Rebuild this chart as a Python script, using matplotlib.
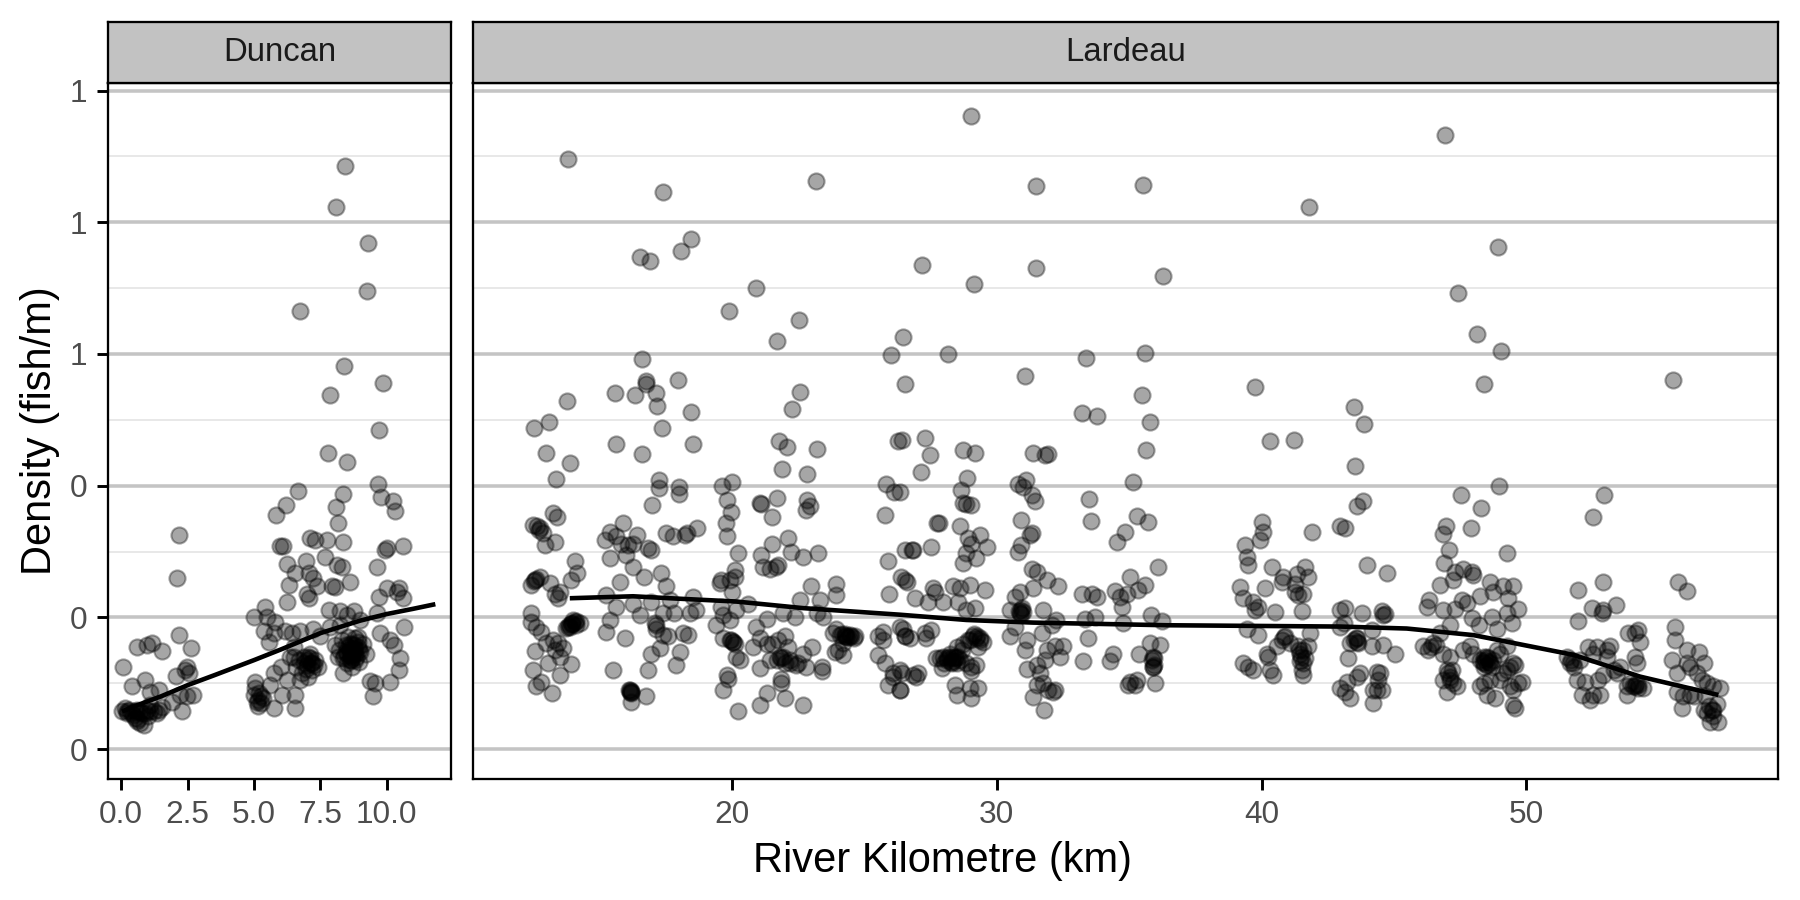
import matplotlib
matplotlib.use("Agg")
import matplotlib.pyplot as plt

plt.rcParams['font.family'] = ['Liberation Sans', 'DejaVu Sans']

# ---------------- data ----------------
panel_names = ["Duncan", "Lardeau"]
x_title = "River Kilometre (km)"
y_title = "Density (fish/m)"

y_tick_values = [0.0, 0.2, 0.4, 0.6, 0.8, 1.0]
y_tick_labels = ["0", "0", "0", "1", "1", "1"]
y_minor_values = [0.1, 0.3, 0.5, 0.7, 0.9]
duncan_x_ticks = [0.0, 2.5, 5.0, 7.5, 10.0]
duncan_x_labels = ["0.0", "2.5", "5.0", "7.5", "10.0"]
lardeau_x_ticks = [20, 30, 40, 50]
lardeau_x_labels = ["20", "30", "40", "50"]

duncan_points = [
    (8.43, 0.886), (8.10, 0.823), (9.31, 0.768), (9.25, 0.695), (6.72, 0.665), (8.39, 0.582), (9.86, 0.556),
    (7.85, 0.538), (9.70, 0.484), (7.78, 0.450), (8.50, 0.436), (6.67, 0.392), (9.67, 0.403), (9.79, 0.383),
    (10.23, 0.376), (10.32, 0.362), (8.37, 0.387), (8.07, 0.368), (8.16, 0.343), (6.19, 0.370), (5.83, 0.356),
    (2.16, 0.325), (2.10, 0.259),
    (5.99, 0.309), (6.09, 0.309), (7.12, 0.320), (7.31, 0.318), (7.75, 0.318), (8.35, 0.314), (9.94, 0.303),
    (10.0, 0.305), (10.63, 0.309),
    (6.24, 0.281), (6.95, 0.285), (7.68, 0.292), (8.12, 0.279), (8.31, 0.277), (6.55, 0.267), (7.06, 0.267),
    (7.24, 0.259), (8.62, 0.254), (7.93, 0.248), (8.06, 0.246), (6.30, 0.249), (6.99, 0.236), (7.06, 0.229),
    (7.37, 0.247), (9.63, 0.277), (9.69, 0.231), (10.0, 0.244), (10.45, 0.245), (10.38, 0.238), (10.63, 0.229),
    (6.24, 0.224), (5.42, 0.216), (5.01, 0.200), (5.49, 0.200), (5.80, 0.193), (7.81, 0.211), (8.25, 0.209),
    (8.50, 0.204), (8.75, 0.209), (9.63, 0.206),
    (5.36, 0.180), (5.55, 0.163), (5.74, 0.176), (6.18, 0.180), (6.43, 0.176), (6.74, 0.180), (7.24, 0.183),
    (7.50, 0.171), (7.87, 0.185), (8.25, 0.188), (9.0, 0.196), (9.76, 0.176), (10.13, 0.165), (10.26, 0.158),
    (10.66, 0.186), (10.51, 0.138), (10.45, 0.120), (10.13, 0.102), (9.38, 0.104), (9.57, 0.100), (9.50, 0.080),
    (8.05, 0.158), (8.2, 0.150), (8.3, 0.165), (8.4, 0.142), (8.45, 0.158), (8.55, 0.170), (8.6, 0.148),
    (8.65, 0.135), (8.7, 0.160), (8.75, 0.150), (8.8, 0.168), (8.85, 0.140), (8.9, 0.155), (8.95, 0.132),
    (9.0, 0.148), (9.1, 0.160), (8.5, 0.130), (8.35, 0.138), (8.7, 0.125), (9.2, 0.145), (8.15, 0.140),
    (8.9, 0.170), (8.6, 0.152), (8.7, 0.145), (8.8, 0.152),
    (8.5, 0.145), (8.6, 0.160), (8.7, 0.138), (8.8, 0.145), (8.9, 0.162), (8.55, 0.155), (8.65, 0.142),
    (8.75, 0.158), (8.45, 0.148), (8.95, 0.150), (8.6, 0.135), (8.8, 0.135),
    (6.5, 0.140), (6.6, 0.125), (6.7, 0.135), (6.8, 0.115), (6.9, 0.140), (7.0, 0.128), (7.1, 0.145),
    (7.2, 0.120), (7.3, 0.135), (7.4, 0.125), (6.75, 0.105), (7.05, 0.110), (7.0, 0.135), (7.15, 0.130),
    (6.9, 0.130), (7.1, 0.138), (7.2, 0.130), (6.95, 0.122), (7.05, 0.140), (7.25, 0.128),
    (8.37, 0.115), (6.5, 0.155), (6.37, 0.140), (6.0, 0.125), (5.74, 0.115), (6.24, 0.105), (6.05, 0.082),
    (6.55, 0.082), (6.55, 0.062),
    (5.0, 0.082), (5.1, 0.072), (5.2, 0.085), (5.25, 0.070), (5.35, 0.078), (5.15, 0.065), (5.05, 0.092),
    (5.15, 0.075), (5.25, 0.080),
    (5.05, 0.102), (5.61, 0.097), (5.74, 0.062),
    (0.06, 0.124), (0.40, 0.095), (0.61, 0.155), (0.97, 0.158), (1.15, 0.161), (1.53, 0.149), (0.90, 0.105),
    (1.09, 0.087), (1.41, 0.090), (2.18, 0.173), (2.62, 0.154), (2.07, 0.111), (2.41, 0.120), (2.54, 0.115),
    (2.47, 0.125), (1.91, 0.072), (2.28, 0.057), (2.22, 0.082), (2.72, 0.082), (2.47, 0.080),
    (0.03, 0.057), (0.21, 0.057), (0.40, 0.054), (0.59, 0.059), (0.78, 0.054), (0.97, 0.059), (1.22, 0.057),
    (1.41, 0.059), (1.53, 0.064), (0.72, 0.039), (0.84, 0.036), (0.53, 0.047), (1.09, 0.067), (0.15, 0.062),
    (1.34, 0.054), (0.3, 0.060), (0.5, 0.058), (1.0, 0.050), (0.65, 0.045),
    (0.2, 0.055), (0.45, 0.052), (0.7, 0.056), (0.9, 0.055), (1.1, 0.058), (0.6, 0.042),
]

lardeau_points = [
    # upper
    (13.82, 0.896), (17.40, 0.846), (23.17, 0.863), (18.45, 0.775), (18.07, 0.757), (16.51, 0.748),
    (16.91, 0.741), (27.17, 0.735), (20.92, 0.700), (19.87, 0.665), (22.52, 0.652), (21.71, 0.620),
    (26.46, 0.626), (16.61, 0.592), (26.02, 0.598), (16.75, 0.559),
    (29.04, 0.961), (46.93, 0.932), (31.47, 0.855), (35.53, 0.857), (41.79, 0.823), (48.93, 0.762),
    (31.47, 0.730), (29.12, 0.707), (36.29, 0.719), (47.40, 0.693), (48.12, 0.630), (28.17, 0.600),
    (33.37, 0.594), (35.61, 0.602), (49.03, 0.605), (31.08, 0.567), (55.53, 0.561), (48.38, 0.555),
    (39.74, 0.550),
    # 12-27 km
    (13.77, 0.529), (12.52, 0.487), (13.07, 0.497), (12.99, 0.449), (13.87, 0.435), (13.34, 0.410),
    (15.57, 0.541), (16.32, 0.538), (16.76, 0.555), (17.12, 0.540), (17.17, 0.521), (17.96, 0.560),
    (18.43, 0.512), (17.37, 0.488), (18.53, 0.464), (15.61, 0.463), (16.58, 0.448), (22.56, 0.542),
    (22.28, 0.516), (21.78, 0.468), (22.08, 0.458), (23.22, 0.456), (21.89, 0.426), (22.83, 0.417),
    (26.28, 0.468), (26.52, 0.554), (25.81, 0.403), (26.11, 0.390), (25.77, 0.356), (17.24, 0.408),
    (17.24, 0.397), (18.0, 0.398), (18.0, 0.388), (16.97, 0.370), (19.62, 0.399), (20.01, 0.406),
    (19.81, 0.378), (19.95, 0.360), (19.76, 0.343), (19.81, 0.323), (21.07, 0.374), (21.09, 0.372),
    (21.68, 0.382), (21.49, 0.352), (22.83, 0.378), (22.93, 0.369), (22.81, 0.363),
    (12.48, 0.340), (12.73, 0.335), (12.86, 0.328), (12.92, 0.310), (13.30, 0.315), (13.24, 0.358),
    (13.39, 0.353), (12.70, 0.332), (12.65, 0.338),
    (15.19, 0.317), (15.38, 0.330), (15.63, 0.323), (15.88, 0.343), (15.82, 0.312), (16.07, 0.310),
    (16.39, 0.325), (16.26, 0.312), (16.83, 0.305), (16.95, 0.302), (15.38, 0.290),
    (16.01, 0.295), (16.26, 0.277), (16.68, 0.262), (17.33, 0.268), (15.78, 0.254),
    (17.52, 0.328), (17.77, 0.323), (18.21, 0.325), (18.28, 0.328), (18.69, 0.335), (17.52, 0.247),
    (20.23, 0.297), (20.10, 0.272), (20.10, 0.262), (19.91, 0.257), (19.60, 0.257), (19.53, 0.252),
    (20.01, 0.239),
    (21.08, 0.295), (21.15, 0.277), (21.52, 0.312), (21.65, 0.277), (21.74, 0.279), (22.12, 0.320),
    (22.24, 0.300), (22.68, 0.292), (23.25, 0.298), (21.42, 0.274),
    (22.98, 0.247), (23.92, 0.251), (23.92, 0.234), (23.31, 0.226), (22.56, 0.226),
    (25.90, 0.285), (25.93, 0.236), (26.37, 0.261), (26.59, 0.254), (26.52, 0.302),
    (12.55, 0.257), (12.73, 0.262), (12.42, 0.249), (13.11, 0.252), (13.49, 0.239), (13.93, 0.257),
    (14.06, 0.285), (14.15, 0.268), (13.30, 0.236), (13.43, 0.229), (12.60, 0.258), (12.50, 0.255),
    (15.23, 0.234), (15.63, 0.216), (16.26, 0.221), (16.51, 0.204), (16.95, 0.224), (17.65, 0.226),
    (17.14, 0.188), (17.39, 0.206), (17.81, 0.206), (18.53, 0.231), (18.65, 0.211), (18.40, 0.206),
    (19.60, 0.216), (19.66, 0.204), (19.91, 0.196), (20.16, 0.211), (20.60, 0.221), (20.92, 0.186),
    (21.30, 0.198), (21.93, 0.206), (22.37, 0.201), (23.19, 0.206), (23.44, 0.201),
    (12.42, 0.206), (12.42, 0.193), (12.61, 0.186), (12.80, 0.178), (12.99, 0.161), (13.24, 0.166),
    (13.43, 0.161), (13.62, 0.153), (13.87, 0.186), (14.25, 0.191), (14.12, 0.189), (13.74, 0.184),
    (14.00, 0.196), (13.30, 0.150), (13.49, 0.140), (13.90, 0.190), (13.95, 0.192), (14.05, 0.193),
    (13.85, 0.188), (13.95, 0.190), (14.10, 0.195), (13.80, 0.185),
    (12.55, 0.149), (13.05, 0.130), (13.93, 0.129), (12.48, 0.120), (13.49, 0.112), (12.61, 0.095),
    (12.80, 0.102), (13.18, 0.085),
    (15.25, 0.178), (15.38, 0.196), (15.95, 0.168), (15.50, 0.120), (16.13, 0.087), (16.20, 0.087),
    (16.20, 0.072), (16.76, 0.080), (16.83, 0.120), (16.95, 0.145), (17.27, 0.153), (18.02, 0.148),
    (17.90, 0.128), (17.39, 0.173), (18.15, 0.176), (18.34, 0.173), (16.15, 0.090), (16.17, 0.088),
    (16.10, 0.090), (16.20, 0.085),
    (17.08, 0.191), (17.14, 0.183), (17.58, 0.171),
    (19.41, 0.188), (19.66, 0.168), (19.91, 0.166), (20.10, 0.160), (20.16, 0.140), (20.29, 0.135),
    (19.79, 0.112), (19.85, 0.107), (19.66, 0.090), (20.23, 0.057), (20.04, 0.163), (19.95, 0.165),
    (20.05, 0.162),
    (20.79, 0.155), (21.05, 0.168), (21.30, 0.160), (21.74, 0.166), (21.99, 0.171), (21.93, 0.140),
    (22.18, 0.135), (22.49, 0.130), (22.68, 0.145), (22.81, 0.125), (22.12, 0.155), (21.05, 0.123),
    (21.86, 0.107), (21.86, 0.100), (21.99, 0.078), (21.30, 0.085), (21.05, 0.067), (22.68, 0.067),
    (23.00, 0.155), (23.38, 0.125), (23.38, 0.118), (21.42, 0.135), (21.49, 0.160), (21.80, 0.140),
    (21.85, 0.138), (22.20, 0.130), (22.00, 0.130), (21.70, 0.135), (22.40, 0.128),
    (23.82, 0.176), (24.07, 0.173), (24.26, 0.171), (24.45, 0.173), (24.64, 0.171), (23.94, 0.183),
    (24.20, 0.161), (23.88, 0.148), (24.20, 0.143), (24.00, 0.150), (24.30, 0.172), (24.35, 0.170),
    (24.25, 0.175), (24.40, 0.170), (24.50, 0.172), (24.15, 0.174), (24.60, 0.168),
    (25.52, 0.171), (25.71, 0.166), (25.52, 0.143), (25.77, 0.130), (26.08, 0.115), (26.34, 0.120),
    (25.90, 0.097), (26.34, 0.090), (26.08, 0.110), (25.71, 0.178), (26.52, 0.171), (26.46, 0.183),
    # 26-43 km
    (33.20, 0.511), (33.77, 0.506), (35.49, 0.537), (35.78, 0.496), (35.65, 0.454), (40.31, 0.468),
    (41.23, 0.469), (26.40, 0.469), (27.28, 0.473), (27.49, 0.447), (27.13, 0.421), (26.34, 0.391),
    (28.73, 0.454), (29.17, 0.450), (28.89, 0.411), (28.64, 0.394), (28.73, 0.374), (29.04, 0.371),
    (28.85, 0.372), (31.37, 0.449), (31.81, 0.447), (31.94, 0.448), (30.81, 0.403), (31.10, 0.409),
    (30.99, 0.398), (31.31, 0.386), (31.44, 0.377), (35.15, 0.405), (33.49, 0.379), (33.54, 0.347),
    (35.30, 0.354), (35.72, 0.345), (34.84, 0.330), (34.52, 0.315), (30.93, 0.348), (31.25, 0.325),
    (31.31, 0.328), (30.81, 0.300), (30.93, 0.310), (27.75, 0.343), (27.82, 0.344),
    (28.60, 0.338), (28.92, 0.320), (29.04, 0.312), (29.36, 0.325), (29.61, 0.307), (29.23, 0.290),
    (28.85, 0.297), (28.73, 0.282), (26.84, 0.302), (26.78, 0.302), (27.53, 0.307),
    (26.52, 0.257), (26.90, 0.229), (27.60, 0.244), (27.66, 0.238), (27.97, 0.224), (27.41, 0.224),
    (28.35, 0.247), (28.60, 0.244), (28.98, 0.249), (29.55, 0.242), (29.17, 0.214), (28.54, 0.224),
    (28.85, 0.211),
    (31.31, 0.274), (31.50, 0.269), (31.88, 0.257), (32.32, 0.247), (31.37, 0.244), (30.68, 0.231),
    (30.87, 0.239), (30.49, 0.211), (30.93, 0.211), (31.75, 0.211), (31.69, 0.176), (32.07, 0.188),
    (32.25, 0.196), (30.49, 0.171), (30.68, 0.186), (30.87, 0.206), (30.95, 0.214), (31.00, 0.208),
    (30.85, 0.210), (30.90, 0.205),
    (33.20, 0.236), (33.61, 0.236), (33.77, 0.231), (34.46, 0.240), (34.65, 0.231), (35.02, 0.261),
    (35.34, 0.242), (35.59, 0.249), (36.09, 0.276), (33.32, 0.198), (33.70, 0.201), (34.77, 0.191),
    (35.84, 0.204), (36.22, 0.195), (33.45, 0.168), (34.90, 0.236), (34.71, 0.216),
    (33.26, 0.133), (34.39, 0.145), (34.27, 0.133), (35.02, 0.102), (35.28, 0.105), (35.21, 0.097),
    (34.96, 0.097), (35.38, 0.145), (35.78, 0.161), (35.91, 0.125), (35.97, 0.100), (36.16, 0.158),
    (35.91, 0.140), (35.95, 0.128), (35.85, 0.135), (35.90, 0.125), (35.95, 0.138),
    (26.34, 0.186), (26.52, 0.171), (26.71, 0.168), (27.28, 0.176), (27.34, 0.168), (27.53, 0.181),
    (26.40, 0.115), (26.84, 0.112), (26.96, 0.110), (26.34, 0.090), (27.03, 0.115),
    (27.85, 0.138), (28.10, 0.135), (28.35, 0.133), (28.54, 0.140), (28.85, 0.130), (29.04, 0.125),
    (29.23, 0.128), (29.11, 0.171), (29.36, 0.168), (29.48, 0.163), (29.30, 0.155), (28.73, 0.160),
    (28.67, 0.150), (28.22, 0.145), (27.97, 0.140), (27.72, 0.138), (28.92, 0.166), (28.48, 0.155),
    (27.91, 0.123), (29.04, 0.118), (28.20, 0.140), (28.40, 0.138), (28.60, 0.135), (28.30, 0.130),
    (29.20, 0.168), (29.00, 0.165), (28.10, 0.138), (28.25, 0.132), (28.45, 0.140), (28.50, 0.130),
    (28.00, 0.130), (28.35, 0.140), (29.25, 0.172), (29.35, 0.165), (29.15, 0.175),
    (28.41, 0.097), (28.48, 0.082), (28.98, 0.092), (29.04, 0.077), (29.30, 0.092),
    (31.12, 0.165), (31.06, 0.150), (31.12, 0.122), (31.50, 0.127), (31.62, 0.115), (31.81, 0.135),
    (31.88, 0.150), (32.19, 0.156), (32.38, 0.140), (32.51, 0.156), (31.50, 0.097), (31.75, 0.100),
    (31.94, 0.090), (32.13, 0.087), (32.19, 0.090), (31.37, 0.079), (31.78, 0.060),
    (39.18, 0.246), (39.31, 0.229), (39.68, 0.224), (39.87, 0.216), (39.43, 0.292), (39.37, 0.310),
    (39.50, 0.279), (40.00, 0.345), (40.06, 0.330), (39.94, 0.317), (40.38, 0.277), (40.75, 0.254),
    (40.82, 0.262), (41.32, 0.266), (41.63, 0.277), (41.76, 0.262), (41.26, 0.239), (41.38, 0.234),
    (41.51, 0.209), (41.89, 0.330), (42.96, 0.338), (40.12, 0.244), (39.75, 0.211), (40.50, 0.208),
    (41.26, 0.251), (41.57, 0.236),
    (39.43, 0.183), (39.87, 0.173), (39.31, 0.130), (39.50, 0.125), (39.68, 0.120), (40.19, 0.145),
    (40.25, 0.140), (40.31, 0.120), (40.44, 0.112), (40.75, 0.166), (40.88, 0.171), (41.07, 0.161),
    (41.38, 0.156), (41.57, 0.151), (41.45, 0.133), (41.63, 0.138), (41.51, 0.120), (41.57, 0.112),
    (41.76, 0.156), (41.82, 0.176), (40.57, 0.156), (41.45, 0.145), (41.50, 0.140), (41.55, 0.130),
    (41.40, 0.150), (40.85, 0.170),
    (42.96, 0.211), (42.96, 0.092),
    # 43-58 km
    (43.49, 0.520), (43.88, 0.494), (43.53, 0.430), (43.59, 0.369), (43.84, 0.376), (43.15, 0.336),
    (43.99, 0.279), (44.75, 0.268), (48.98, 0.400), (47.53, 0.386), (48.29, 0.366), (47.90, 0.335),
    (46.96, 0.338), (46.86, 0.327), (47.09, 0.303), (46.89, 0.283), (46.74, 0.249), (46.33, 0.226),
    (46.26, 0.216), (46.86, 0.211), (47.24, 0.257), (47.30, 0.269), (47.62, 0.274), (47.93, 0.269),
    (48.00, 0.264), (49.26, 0.298),
    (48.63, 0.253), (48.75, 0.238), (49.13, 0.248), (49.51, 0.248), (49.32, 0.230), (49.70, 0.212),
    (49.45, 0.191), (48.69, 0.201), (48.25, 0.232), (47.75, 0.222), (47.56, 0.227), (47.30, 0.212),
    (47.12, 0.189), (47.93, 0.199), (48.19, 0.189), (48.88, 0.183), (49.26, 0.206),
    (51.96, 0.242), (52.91, 0.253), (52.47, 0.214), (52.85, 0.206), (52.91, 0.211), (53.39, 0.219),
    (51.93, 0.195), (52.53, 0.352), (52.93, 0.386), (55.74, 0.254), (56.06, 0.240),
    (43.14, 0.214), (43.11, 0.191), (43.78, 0.206), (44.60, 0.203), (44.53, 0.210), (44.66, 0.205),
    (42.96, 0.186), (43.34, 0.161), (43.65, 0.161), (43.59, 0.168), (44.16, 0.181), (44.16, 0.156),
    (44.60, 0.158), (45.04, 0.145), (43.27, 0.138), (43.72, 0.115), (43.59, 0.110), (43.21, 0.102),
    (43.15, 0.087), (43.34, 0.077), (44.35, 0.117), (44.47, 0.115), (44.22, 0.090), (44.35, 0.090),
    (44.22, 0.070), (44.53, 0.090), (44.41, 0.105), (43.60, 0.163), (43.55, 0.168), (43.50, 0.165),
    (46.11, 0.156), (46.30, 0.150), (46.49, 0.161), (46.74, 0.176), (46.86, 0.145), (47.12, 0.140),
    (46.99, 0.120), (47.12, 0.110), (47.24, 0.100), (46.99, 0.087), (47.37, 0.095), (46.86, 0.105),
    (47.18, 0.120), (47.05, 0.115), (47.10, 0.105), (46.40, 0.155), (46.60, 0.158),
    (47.62, 0.150), (47.87, 0.156), (48.00, 0.145), (48.25, 0.135), (48.50, 0.140), (48.63, 0.130),
    (48.75, 0.135), (48.38, 0.125), (48.88, 0.150), (49.00, 0.145), (49.26, 0.156), (49.51, 0.130),
    (49.57, 0.128), (49.13, 0.115), (49.00, 0.105), (48.63, 0.105), (48.38, 0.100), (48.25, 0.095),
    (48.50, 0.082), (48.82, 0.077), (49.38, 0.095), (49.51, 0.090), (49.70, 0.100), (49.82, 0.102),
    (49.51, 0.067), (49.57, 0.062), (49.26, 0.120), (49.38, 0.125), (48.40, 0.130), (48.50, 0.128),
    (48.45, 0.135), (48.60, 0.132), (48.35, 0.132), (48.55, 0.138), (48.70, 0.125), (48.40, 0.140),
    (51.52, 0.140), (51.65, 0.130), (51.78, 0.125), (52.03, 0.135), (51.90, 0.105), (52.22, 0.102),
    (52.09, 0.082), (52.40, 0.075), (52.53, 0.082), (52.78, 0.082), (52.72, 0.105), (52.91, 0.112),
    (53.03, 0.150), (53.16, 0.156), (53.29, 0.120), (53.41, 0.115), (53.79, 0.095), (53.92, 0.100),
    (54.04, 0.095), (54.23, 0.097), (54.42, 0.092), (53.79, 0.082), (54.10, 0.176), (54.29, 0.163),
    (54.23, 0.181), (53.85, 0.176), (54.10, 0.140), (54.17, 0.130), (52.34, 0.155), (52.53, 0.145),
    (52.66, 0.155), (53.03, 0.140), (53.54, 0.125), (51.70, 0.135), (51.75, 0.130), (54.10, 0.095),
    (54.20, 0.093), (54.15, 0.098),
    (55.62, 0.186), (55.62, 0.166), (55.49, 0.135), (55.68, 0.115), (56.06, 0.151), (56.50, 0.148),
    (56.69, 0.130), (56.18, 0.125), (56.44, 0.115), (56.63, 0.105), (56.81, 0.100), (57.06, 0.095),
    (57.32, 0.092), (55.68, 0.087), (55.93, 0.080), (56.18, 0.082), (56.31, 0.080), (55.87, 0.062),
    (56.69, 0.059), (56.81, 0.054), (56.94, 0.041), (57.25, 0.041), (57.06, 0.059), (57.19, 0.069),
    (56.75, 0.080), (56.06, 0.130), (57.00, 0.060), (56.90, 0.065), (57.05, 0.050),
]

duncan_smooth_km = [0.03, 0.5, 1.5, 2.5, 3.5, 5.0, 6.0, 7.5, 9.0, 10.0, 11.0, 11.83]
duncan_smooth_density = [0.057, 0.065, 0.080, 0.097, 0.112, 0.135, 0.151, 0.176, 0.195, 0.205, 0.213, 0.220]
lardeau_smooth_km = [13.87, 16.26, 17.65, 20.16, 22.68, 26.34, 28.85, 31.37, 36.41, 42.96, 45.48, 48.0,
                     49.26, 51.78, 54.29, 57.25]
lardeau_smooth_density = [0.229, 0.232, 0.229, 0.224, 0.214, 0.204, 0.196, 0.192, 0.188, 0.186, 0.183,
                          0.173, 0.163, 0.143, 0.110, 0.082]

duncan_xlim = (-0.51, 12.42)
lardeau_xlim = (10.23, 59.49)
ylim = (-0.046, 1.0116)

# ---------------- layout ----------------
W, H = 1800, 900
fig = plt.figure(figsize=(12, 6), dpi=150)


def rect(l, t, r, b):
    return [l / W, 1 - b / H, (r - l) / W, (b - t) / H]


panel_rects = [rect(107.7, 83, 451, 779.3), rect(473.4, 83, 1777.7, 779.3)]
strip_rects = [rect(107.7, 21.7, 451, 83), rect(473.4, 21.7, 1777.7, 83)]

point_sets = [duncan_points, lardeau_points]
smooth_sets = [(duncan_smooth_km, duncan_smooth_density), (lardeau_smooth_km, lardeau_smooth_density)]
xlims = [duncan_xlim, lardeau_xlim]
xticks = [(duncan_x_ticks, duncan_x_labels), (lardeau_x_ticks, lardeau_x_labels)]

for i in range(2):
    ax = fig.add_axes(panel_rects[i])
    ax.set_facecolor("white")
    xs = [p[0] for p in point_sets[i]]
    ys = [p[1] for p in point_sets[i]]
    ax.scatter(xs, ys, s=60, facecolors=(0, 0, 0, 0.35), edgecolors=(0, 0, 0, 0.35),
               linewidths=1.0, zorder=3)
    ax.plot(smooth_sets[i][0], smooth_sets[i][1], color="black", lw=2.2, zorder=4,
            solid_capstyle="butt")
    ax.set_xlim(*xlims[i])
    ax.set_ylim(*ylim)
    ax.set_yticks(y_tick_values)
    ax.set_yticks(y_minor_values, minor=True)
    ax.set_xticks(xticks[i][0])
    ax.set_xticklabels(xticks[i][1])
    ax.grid(which="major", axis="y", color="#C4C4C4", lw=1.7, zorder=0)
    ax.grid(which="minor", axis="y", color="#E4E4E4", lw=0.8, zorder=0)
    ax.set_axisbelow(True)
    for sp in ax.spines.values():
        sp.set_color("black")
        sp.set_linewidth(1.1)
    ax.tick_params(axis="both", which="major", direction="out", length=5.3, width=1.4,
                   color="black", labelcolor="#4D4D4D", labelsize=15.2, pad=4.5)
    ax.tick_params(axis="y", which="minor", length=0)
    if i == 0:
        ax.set_yticklabels(y_tick_labels)
    else:
        ax.tick_params(axis="y", which="both", left=False, labelleft=False)

    sax = fig.add_axes(strip_rects[i])
    sax.set_facecolor("#C2C2C2")
    sax.set_xticks([])
    sax.set_yticks([])
    for sp in sax.spines.values():
        sp.set_color("black")
        sp.set_linewidth(1.1)
    sax.text(0.5, 0.5, panel_names[i], transform=sax.transAxes, ha="center", va="center",
             fontsize=15.8, color="#1A1A1A")

fig.text(942.7 / W, 1 - 872 / H, x_title, ha="center", va="baseline", fontsize=20, color="black")
fig.text(40 / W, 1 - 431 / H, y_title, ha="center", va="center", rotation=90, fontsize=20,
         color="black")

fig.savefig("out.png", dpi=150)
